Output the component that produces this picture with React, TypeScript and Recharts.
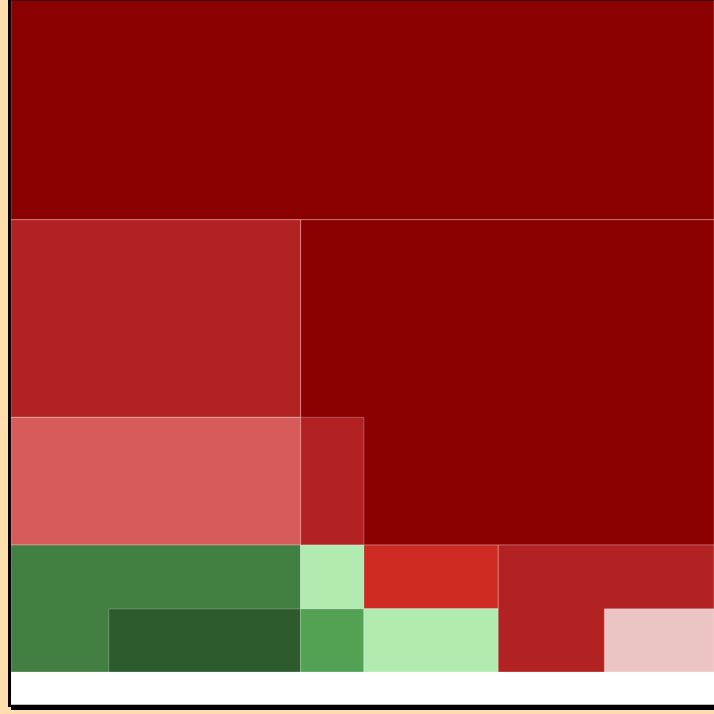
import React from 'react';
import { ComposedChart, XAxis, YAxis, ReferenceArea } from 'recharts';

// blocks in drawing order (later ones sit on top), coordinates in data units 0..100
const blockNames = ['A', 'B', 'C', 'D', 'E', 'F', 'G', 'H', 'I', 'J', 'K', 'L', 'M'];
const blockX0 = [0, 41.2, 0, 0, 41.2, 0, 13.9, 41.2, 41.2, 50.2, 50.2, 69.3, 84.4];
const blockX1 = [100, 100, 41.2, 41.2, 50.2, 41.2, 41.2, 50.2, 50.2, 69.3, 69.3, 100, 100];
const blockY0 = [0, 32.7, 32.7, 62.1, 62.1, 81.1, 90.6, 81.1, 90.6, 81.1, 90.6, 81.1, 90.6];
const blockY1 = [32.7, 81.1, 62.1, 81.1, 81.1, 100, 100, 90.6, 100, 90.6, 100, 100, 100];

const palette = [
  '#8B0000', '#8B0000', '#B22222', '#D85B5B', '#B22222', '#427F43', '#2E5B2E',
  '#B1EBB0', '#53A253', '#CC2A22', '#B1EBB0', '#B22222', '#EBC4C4',
];

const CHART_W = 703;
const CHART_H = 704;

export default function App() {
  return (
    <>
      <style>{`html{overflow:hidden;} body{background:#FFDEAD;}`}</style>
      <div style={{ position: 'fixed', left: 8, top: 0, width: 706, height: 710 }}>
        <div style={{ position: 'absolute', left: 0, top: 0, width: 3, height: 707, background: '#000' }} />
        <div
          style={{
            position: 'absolute',
            left: 3,
            top: 0,
            width: CHART_W,
            height: CHART_H,
            background: '#fff',
            borderBottom: '1px solid #bbb',
            boxSizing: 'content-box',
          }}
        >
          <ComposedChart width={CHART_W} height={CHART_H} margin={{ top: 0, right: 0, bottom: 32, left: 0 }}>
            <XAxis type="number" dataKey="x" domain={[0, 100]} hide allowDataOverflow />
            <YAxis type="number" dataKey="y" domain={[0, 100]} reversed hide allowDataOverflow />
            {blockNames.map((name, i) => (
              <ReferenceArea
                key={name}
                x1={blockX0[i]}
                x2={blockX1[i]}
                y1={blockY0[i]}
                y2={blockY1[i]}
                fill={palette[i]}
                fillOpacity={1}
                stroke="#fff"
                strokeOpacity={0.25}
                strokeWidth={1}
                ifOverflow="extendDomain"
              />
            ))}
          </ComposedChart>
          <div style={{ position: 'absolute', left: 0, top: 0, width: CHART_W, height: 1, background: 'rgba(0,0,0,0.6)' }} />
        </div>
        <div style={{ position: 'absolute', left: 3, top: 705, width: CHART_W, height: 5, background: '#000' }} />
      </div>
    </>
  );
}
